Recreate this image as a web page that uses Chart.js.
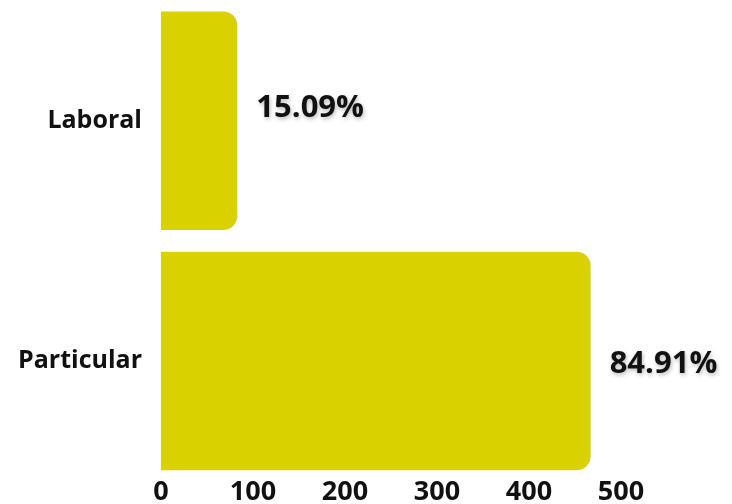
<!DOCTYPE html>
<html>
<head>
<meta charset="utf-8">
<script src="https://cdn.jsdelivr.net/npm/chart.js@4.4.1/dist/chart.umd.min.js"></script>
<style>
  html, body { margin: 0; padding: 0; background: #fff; }
  #wrap { width: 732px; height: 504px; }
</style>
</head>
<body>
<div id="wrap"><canvas id="myChart"></canvas></div>
<script>
'use strict'

// data
const categories = ['Laboral', 'Particular'];
const counts = [83, 467];
const percentLabels = ['15.09%', '84.91%'];
const xTicks = [0, 100, 200, 300, 400, 500];

// draws the percent text at the end of every bar
const percentPlugin = {
  id: 'percentPlugin',
  afterDatasetsDraw(chart) {
    const ctx = chart.ctx;
    const meta = chart.getDatasetMeta(0);
    ctx.save();
    ctx.font = 'bold 31px "Open Sans"';
    ctx.fillStyle = '#111';
    ctx.textAlign = 'left';
    ctx.textBaseline = 'middle';
    ctx.shadowColor = 'rgba(0,0,0,0.28)';
    ctx.shadowBlur = 4;
    ctx.shadowOffsetX = 1;
    ctx.shadowOffsetY = 2;
    const shiftY = [-13, 3];
    meta.data.forEach(function (bar, i) {
      ctx.fillText(percentLabels[i], bar.x + 19, bar.y + shiftY[i]);
    });
    ctx.restore();
  }
};

const data = {
  labels: categories,
  datasets: [{
    data: counts,
    backgroundColor: '#d9d200',
    borderRadius: 14,
    borderSkipped: 'start',
    categoryPercentage: 1,
    barPercentage: 0.91
  }]
};

const config = {
  type: 'bar',
  data: data,
  options: {
    indexAxis: 'y',
    responsive: true,
    maintainAspectRatio: false,
    animation: false,
    layout: {
      padding: { left: 18, right: 111, top: 0, bottom: 0 }
    },
    plugins: {
      legend: { display: false },
      tooltip: { enabled: false }
    },
    scales: {
      x: {
        min: 0,
        max: 500,
        afterBuildTicks(axis) {
          axis.ticks = xTicks.map(function (v) { return { value: v }; });
        },
        grid: { display: false, drawTicks: false },
        border: { display: false },
        ticks: {
          padding: 0,
          color: '#111',
          font: { family: 'Open Sans', weight: 'bold', size: 27, lineHeight: 0.85 }
        }
      },
      y: {
        grid: { display: false, drawTicks: true, tickLength: 19 },
        border: { display: false },
        ticks: {
          padding: 0,
          color: '#111',
          font: { family: 'Open Sans', weight: 'bold', size: 25, lineHeight: 0.05 }
        }
      }
    }
  },
  plugins: [percentPlugin]
};

let canvasChart = document.getElementById('myChart');
const myChart = new Chart(canvasChart, config);
</script>
</body>
</html>
